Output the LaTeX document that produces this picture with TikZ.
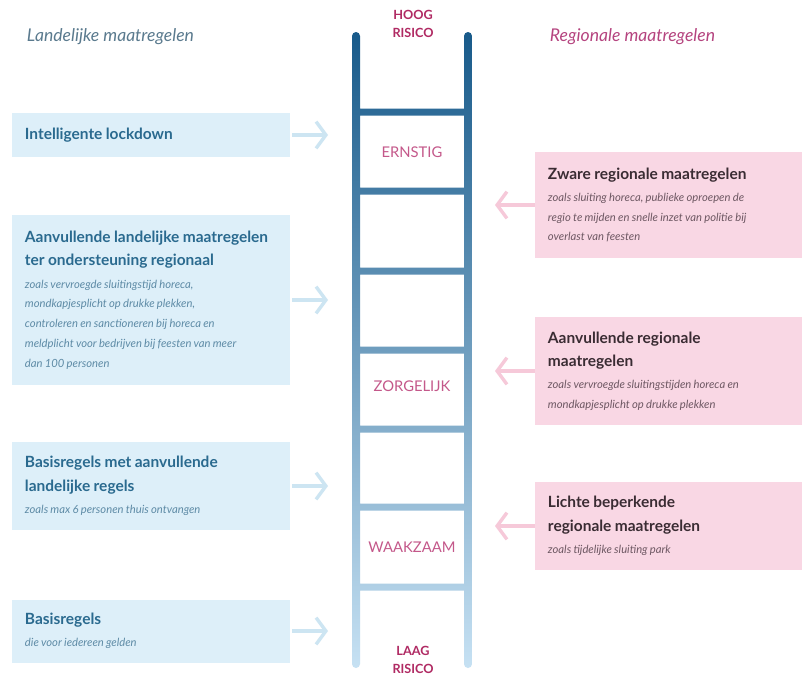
\documentclass[tikz,border=0pt]{standalone}
\usepackage{fontspec}
\setmainfont{Lato}
\usepackage{xcolor}
\usetikzlibrary{arrows.meta,positioning}
\definecolor{railtop}{HTML}{185A8A}
\definecolor{railmid}{HTML}{3684BC}
\definecolor{railbot}{HTML}{C6E1F3}
\definecolor{landfill}{HTML}{DDEFF9}
\definecolor{landtext}{HTML}{2A6A8F}
\definecolor{landnote}{HTML}{5E8BA6}
\definecolor{landarrow}{HTML}{CDE5F2}
\definecolor{regfill}{HTML}{F9D7E4}
\definecolor{regtext}{HTML}{3A2C33}
\definecolor{regnote}{HTML}{6E5863}
\definecolor{regarrow}{HTML}{F6C9D9}
\definecolor{risktext}{HTML}{B02A63}
\definecolor{levelsoft}{HTML}{C4588A}
\definecolor{headland}{HTML}{5A7A8E}
\definecolor{headreg}{HTML}{B5447F}
% title and note inside a measure box
\newcommand{\mtitle}[1]{{\bfseries\fontsize{11}{16.5}\selectfont\spaceskip=0.22em plus 0.05em #1\par}}
\newcommand{\mnote}[2]{\vspace{2pt}{\itshape\fontsize{8}{14}\selectfont\spaceskip=0.2em plus 0.05em\color{#1}#2\par}}
\tikzset{
  landbox/.style={
    rectangle, fill=landfill, text=landtext,
    text width=6.3cm, inner xsep=0.325cm,
    align=left, minimum height=#1
  },
  landbox/.default=1.1cm,
  regbox/.style={
    rectangle, fill=regfill, text=regtext,
    text width=6.025cm, inner xsep=0.325cm,
    align=left, minimum height=#1
  },
  regbox/.default=2.2cm,
  toladder/.style={
    -{Straight Barb[length=7pt,width=19pt]}, line width=2.4pt, color=#1
  },
  toladder/.default=landarrow,
  risklabel/.style={
    font=\bfseries\fontsize{9}{13}\selectfont, text=risktext, align=center
  },
  levellabel/.style={
    font=\fontsize{10.5}{12}\selectfont, text=levelsoft
  },
  headlabel/.style={
    font=\itshape\fontsize{12.5}{15}\selectfont, text=#1, anchor=west
  },
}
\begin{document}
\begin{tikzpicture}[x=0.025cm, y=-0.025cm]
  \path[use as bounding box, fill=white] (0,0) rectangle (802,678);

  % Headers
  \node[headlabel=headland] (landhead) at (22,37) {Landelijke maatregelen};
  \node[headlabel=headreg] (reghead) at (545,37) {Regionale maatregelen};

  % Ladder: rails and rungs in one shaded path
  \shade[top color=railtop, middle color=railmid, bottom color=railbot, rounded corners=0.1cm]
    (352,32) rectangle (360,668)
    (464,32) rectangle (472,668)
    \foreach \r in {112,191,271,350,429,507,587} { (356,\r-3.5) rectangle (468,\r+3.5) };

  % Risk levels on the ladder
  \node[risklabel] (hoog) at (413,24) {HOOG\\RISICO};
  \node[levellabel] (ernstig) at (412,152) {ERNSTIG};
  \node[levellabel] (zorgelijk) at (412,386) {ZORGELIJK};
  \node[levellabel] (waakzaam) at (412,547) {WAAKZAAM};
  \node[risklabel] (laag) at (413,660) {LAAG\\RISICO};

  % Landelijke maatregelen
  \node[landbox=1.1cm] (l1) at (151,135) {\mtitle{Intelligente lockdown}};
  \node[landbox=4.25cm] (l2) at (151,300) {%
    \mtitle{Aanvullende landelijke maatregelen\\ter ondersteuning regionaal}%
    \mnote{landnote}{zoals vervroegde sluitingstijd horeca,\\mondkapjesplicht op drukke plekken,\\controleren en sanctioneren bij horeca en\\meldplicht voor bedrijven bij feesten van meer\\dan 100 personen}};
  \node[landbox=2.2cm] (l3) at (151,486) {%
    \mtitle{Basisregels met aanvullende\\landelijke regels}%
    \mnote{landnote}{zoals max 6 personen thuis ontvangen}};
  \node[landbox=1.575cm] (l4) at (151,631) {%
    \mtitle{Basisregels}%
    \mnote{landnote}{die voor iedereen gelden}};

  % Regionale maatregelen
  \node[regbox=2.65cm] (r1) at (668.5,205) {%
    \mtitle{Zware regionale maatregelen}%
    \mnote{regnote}{zoals sluiting horeca, publieke oproepen de\\regio te mijden en snelle inzet van politie bij\\overlast van feesten}};
  \node[regbox=2.7cm] (r2) at (668.5,371) {%
    \mtitle{Aanvullende regionale\\maatregelen}%
    \mnote{regnote}{zoals vervroegde sluitingstijden horeca en\\mondkapjesplicht op drukke plekken}};
  \node[regbox=2.2cm] (r3) at (668.5,526) {%
    \mtitle{Lichte beperkende\\regionale maatregelen}%
    \mnote{regnote}{zoals tijdelijke sluiting park}};

  % Arrows towards the ladder
  \coordinate (lend) at (328,0);
  \coordinate (rend) at (495,0);
  \foreach \b in {l1,l2,l3,l4} {
    \draw[toladder, shorten <=0.05cm] (\b.east) -- (\b.east -| lend);
  }
  \foreach \b in {r1,r2,r3} {
    \draw[toladder=regarrow] (\b.west) -- (\b.west -| rend);
  }
\end{tikzpicture}
\end{document}
